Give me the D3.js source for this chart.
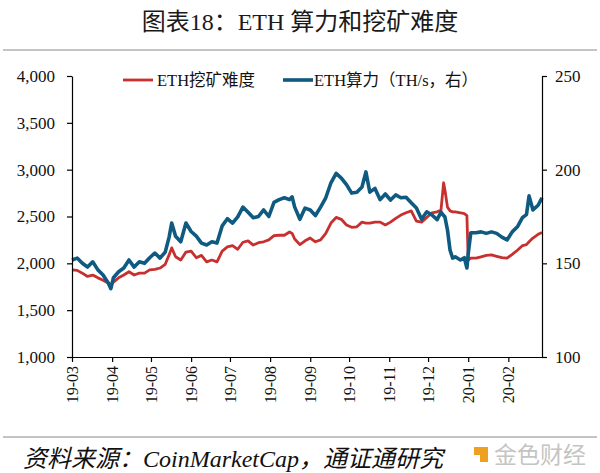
<!DOCTYPE html>
<html>
<head>
<meta charset="utf-8">
<script src="https://cdn.jsdelivr.net/npm/d3@7"></script>
<style>
  body { margin: 0; background: #fff; }
  svg { display: block; }
</style>
</head>
<body>
<svg id="chart" width="600" height="473"></svg>
<script>
// dates of the sampled points
const dates = ["2019-03-01","2019-03-05","2019-03-09","2019-03-13","2019-03-17","2019-03-21","2019-03-25","2019-03-29","2019-03-31",
  "2019-04-02","2019-04-06","2019-04-10","2019-04-14","2019-04-18","2019-04-22","2019-04-26","2019-04-30",
  "2019-05-04","2019-05-08","2019-05-12","2019-05-15","2019-05-17","2019-05-20","2019-05-24","2019-05-28",
  "2019-06-01","2019-06-05","2019-06-09","2019-06-13","2019-06-17","2019-06-21","2019-06-25","2019-06-29",
  "2019-07-03","2019-07-07","2019-07-11","2019-07-15","2019-07-19","2019-07-23","2019-07-27","2019-07-31",
  "2019-08-04","2019-08-08","2019-08-12","2019-08-16","2019-08-18","2019-08-20","2019-08-24","2019-08-28",
  "2019-09-01","2019-09-05","2019-09-09","2019-09-13","2019-09-17","2019-09-21","2019-09-25","2019-09-29",
  "2019-10-03","2019-10-07","2019-10-11","2019-10-14","2019-10-17","2019-10-21","2019-10-25","2019-10-29",
  "2019-11-02","2019-11-06","2019-11-10","2019-11-14","2019-11-18","2019-11-22","2019-11-26","2019-11-30",
  "2019-12-04","2019-12-08","2019-12-11","2019-12-13","2019-12-14","2019-12-16","2019-12-18","2019-12-20","2019-12-22","2019-12-26","2019-12-29","2019-12-31",
  "2020-01-01","2020-01-03","2020-01-07","2020-01-11","2020-01-15","2020-01-19","2020-01-23","2020-01-27","2020-01-31",
  "2020-02-04","2020-02-08","2020-02-12","2020-02-15","2020-02-17","2020-02-20","2020-02-24","2020-02-27"];

// ETH 挖矿难度 (left axis)
const difficulty = [1930,1925,1895,1860,1875,1845,1820,1790,1770,
  1800,1845,1875,1910,1875,1895,1895,1930,
  1935,1950,1990,2090,2165,2070,2035,2120,
  2130,2060,2085,2015,2035,2015,2130,2175,
  2190,2150,2225,2240,2195,2220,2230,2250,
  2295,2300,2300,2335,2320,2260,2200,2240,
  2270,2230,2250,2320,2430,2490,2470,2410,
  2385,2390,2440,2430,2430,2440,2440,2410,
  2440,2480,2515,2540,2560,2450,2440,2490,
  2540,2550,2570,2860,2785,2600,2560,2550,2550,2540,2530,2510,
  2035,2055,2055,2070,2085,2090,2075,2060,2055,
  2095,2140,2190,2200,2230,2270,2310,2330];

// ETH 算力 TH/s (right axis)
const hashrate = [151.8,152.8,150,148,150.8,146.5,143.8,139.5,136.5,
  142.3,145.5,147.5,151.8,148,150.8,150,153,
  155.5,152.8,156,164,171.5,164.5,161.5,171.5,
  167,164.5,160.8,159.8,161.5,160.8,170,173.8,
  171.5,174.8,180,177.3,174.3,175,178.5,175,
  182.5,184,185,184,185.5,180,173.5,179.5,
  178.5,175.5,180,185,193,198,195.5,192,
  187.5,188,190.8,198.8,188,190,184,187,
  183.8,186.5,185,185.3,182.3,179.5,173.5,177.5,
  175.8,173.3,177.3,175.5,174.8,167.8,157,152.8,153.5,151.8,153,147.5,
  155,166.3,166.3,166.8,166,166.8,166,164,162.5,
  166.8,169.5,174.5,176,186,178.5,181,185];

const leftTicks = [1000,1500,2000,2500,3000,3500,4000];
const rightTicks = [100,150,200,250];
const monthTicks = ["2019-03-01","2019-04-01","2019-05-01","2019-06-01","2019-07-01","2019-08-01",
  "2019-09-01","2019-10-01","2019-11-01","2019-12-01","2020-01-01","2020-02-01"];

const serif = '"Liberation Serif", "Times New Roman", "Noto Sans CJK SC", serif';
const red = '#c8302f', blue = '#0f5a80';

const parse = d3.timeParse("%Y-%m-%d");
const series = dates.map((d, i) => ({date: parse(d), diff: difficulty[i], hash: hashrate[i]}));

const svg = d3.select('#chart');
const plotLeft = 72, plotRight = 542, plotTop = 76, plotBottom = 357;

const x = d3.scaleTime()
  .domain([parse("2019-03-01"), parse("2020-02-27")])
  .range([plotLeft, plotRight]);
const yL = d3.scaleLinear().domain([1000, 4000]).range([plotBottom, plotTop]);
const yR = d3.scaleLinear().domain([100, 250]).range([plotBottom, plotTop]);

// title + rules
svg.append('text')
  .attr('x', 300).attr('y', 30)
  .attr('text-anchor', 'middle')
  .style('font-family', serif)
  .style('font-size', '24px')
  .style('fill', '#1a1a1a')
  .text('图表18：ETH 算力和挖矿难度');
svg.append('line').attr('x1', 3).attr('x2', 597).attr('y1', 50).attr('y2', 50)
  .attr('stroke', '#b0b0b0').attr('stroke-width', 1.5);
svg.append('line').attr('x1', 3).attr('x2', 597).attr('y1', 437).attr('y2', 437)
  .attr('stroke', '#b0b0b0').attr('stroke-width', 1.5);

// lines
const lineDiff = d3.line().x(d => x(d.date)).y(d => yL(d.diff));
const lineHash = d3.line().x(d => x(d.date)).y(d => yR(d.hash));
svg.append('path').datum(series)
  .attr('d', lineDiff).attr('fill', 'none')
  .attr('stroke', red).attr('stroke-width', 2.8).attr('stroke-linejoin', 'round');
svg.append('path').datum(series)
  .attr('d', lineHash).attr('fill', 'none')
  .attr('stroke', blue).attr('stroke-width', 3.6).attr('stroke-linejoin', 'round');

// axes
function styleAxis(g) {
  g.select('.domain').attr('stroke', '#000').attr('stroke-width', 1.2);
  g.selectAll('.tick line').attr('stroke', '#000').attr('stroke-width', 1.2);
  g.selectAll('.tick text').style('font-family', serif).style('font-size', '17px').attr('fill', '#111');
}
svg.append('g')
  .attr('transform', `translate(${plotLeft},0)`)
  .call(d3.axisLeft(yL).tickValues(leftTicks).tickFormat(d3.format(',')).tickSize(5).tickSizeOuter(0).tickPadding(12))
  .call(styleAxis);
svg.append('g')
  .attr('transform', `translate(${plotRight},0)`)
  .call(d3.axisRight(yR).tickValues(rightTicks).tickSize(5).tickSizeOuter(0).tickPadding(8))
  .call(styleAxis);
const xa = svg.append('g')
  .attr('transform', `translate(0,${plotBottom})`)
  .call(d3.axisBottom(x).tickValues(monthTicks.map(parse)).tickFormat(d3.timeFormat('%y-%m')).tickSize(5).tickSizeOuter(0))
  .call(styleAxis);
xa.selectAll('.tick text')
  .attr('transform', 'rotate(-90)')
  .attr('text-anchor', 'end')
  .attr('x', -9).attr('y', 0).attr('dy', '0.33em')
  .style('font-size', '16px');

// legend
const legend = [
  {label: 'ETH挖矿难度', color: red, w: 2.8, x1: 123, x2: 153, tx: 157},
  {label: 'ETH算力（TH/s，右）', color: blue, w: 3.6, x1: 283, x2: 313, tx: 314}
];
legend.forEach(l => {
  svg.append('line').attr('x1', l.x1).attr('x2', l.x2).attr('y1', 80).attr('y2', 80)
    .attr('stroke', l.color).attr('stroke-width', l.w);
  svg.append('text').attr('x', l.tx).attr('y', 86)
    .style('font-family', serif).style('font-size', '16.5px').attr('fill', '#111')
    .text(l.label);
});

// source
svg.append('text')
  .attr('x', 23).attr('y', 467)
  .style('font-family', serif)
  .style('font-style', 'italic')
  .style('font-size', '24px')
  .attr('fill', '#111')
  .text('资料来源：CoinMarketCap，通证通研究');

// logo
svg.append('rect').attr('x', 474).attr('y', 447).attr('width', 14).attr('height', 15).attr('fill', '#f0a020');
svg.append('rect').attr('x', 474).attr('y', 455).attr('width', 6).attr('height', 7).attr('fill', '#fff');
svg.append('text')
  .attr('x', 494).attr('y', 463)
  .style('font-family', '"Noto Sans CJK SC", sans-serif')
  .style('font-size', '23px')
  .attr('fill', '#c4c4c4')
  .text('金色财经');
</script>
</body>
</html>
